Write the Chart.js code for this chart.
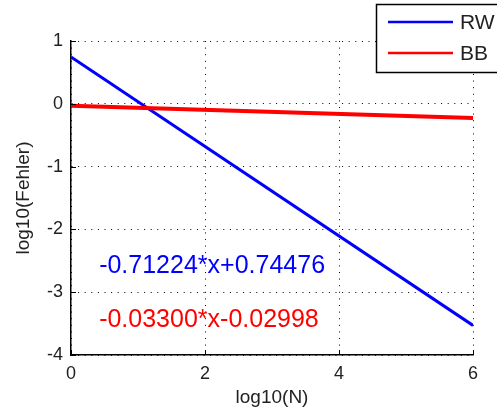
<!DOCTYPE html>
<html>
<head>
<meta charset="utf-8">
<title>log10(Fehler) vs log10(N)</title>
<script src="https://cdn.jsdelivr.net/npm/chart.js@4/dist/chart.umd.min.js"></script>
<style>
  html, body { margin: 0; padding: 0; background: #fff; }
  #plot { display: block; }
</style>
</head>
<body>
<canvas id="plot" width="497" height="417"></canvas>
<script>
// fitted lines, evaluated at the ends of the x range
const xEnds = [0, 6];
const rwValues = [0.74476, -3.52868];   // -0.71224*x+0.74476
const bbValues = [-0.02998, -0.22798];  // -0.03300*x-0.02998
const seriesNames = ['RW', 'BB'];
const fitLabels = ['-0.71224*x+0.74476', '-0.03300*x-0.02998'];
const fitLabelPos = [[0.42, -2.58], [0.42, -3.44]];
const xTicks = [0, 2, 4, 6];
const yTicks = [-4, -3, -2, -1, 0, 1];

const colors = ['#0000ff', '#ff0000'];
const FONT = '"Liberation Sans", Arial, sans-serif';

function points(ys) {
  return xEnds.map((x, i) => ({ x: x, y: ys[i] }));
}

// small inward tick marks on the left and bottom axes
const innerTicks = {
  id: 'innerTicks',
  afterDatasetsDraw(chart) {
    const { ctx, chartArea: a, scales } = chart;
    ctx.save();
    ctx.strokeStyle = '#000';
    ctx.lineWidth = 1;
    ctx.beginPath();
    xTicks.forEach(v => {
      const px = Math.round(scales.x.getPixelForValue(v)) + 0.5;
      ctx.moveTo(px, a.bottom);
      ctx.lineTo(px, a.bottom - 5);
    });
    yTicks.forEach(v => {
      const py = Math.round(scales.y.getPixelForValue(v)) + 0.5;
      ctx.moveTo(a.left, py);
      ctx.lineTo(a.left + 5, py);
    });
    ctx.stroke();
    ctx.restore();
  }
};

// equation text in each series colour
const fitText = {
  id: 'fitText',
  afterDatasetsDraw(chart) {
    const { ctx, scales } = chart;
    ctx.save();
    ctx.font = '25px ' + FONT;
    ctx.textBaseline = 'middle';
    ctx.textAlign = 'left';
    fitLabels.forEach((t, i) => {
      ctx.fillStyle = colors[i];
      ctx.fillText(t, scales.x.getPixelForValue(fitLabelPos[i][0]),
                      scales.y.getPixelForValue(fitLabelPos[i][1]));
    });
    ctx.restore();
  }
};

// boxed legend in the top right corner
const boxLegend = {
  id: 'boxLegend',
  afterDraw(chart) {
    const { ctx } = chart;
    ctx.save();
    ctx.fillStyle = '#fff';
    ctx.fillRect(376, 4, 130, 68);
    ctx.strokeStyle = '#000';
    ctx.lineWidth = 1.5;
    ctx.strokeRect(376.5, 4.5, 130, 68);
    ctx.font = '21px ' + FONT;
    ctx.textBaseline = 'middle';
    chart.data.datasets.forEach((ds, i) => {
      const y = 22 + i * 31;
      ctx.strokeStyle = ds.borderColor;
      ctx.lineWidth = 2.5;
      ctx.beginPath();
      ctx.moveTo(388, y);
      ctx.lineTo(453, y);
      ctx.stroke();
      ctx.fillStyle = '#222';
      ctx.fillText(ds.label, 460, y + 1);
    });
    ctx.restore();
  }
};

new Chart(document.getElementById('plot'), {
  type: 'line',
  data: {
    datasets: [
      {
        label: seriesNames[0],
        data: points(rwValues),
        borderColor: colors[0],
        borderWidth: 3,
        pointRadius: 0,
        order: 1
      },
      {
        label: seriesNames[1],
        data: points(bbValues),
        borderColor: colors[1],
        borderWidth: 4,
        pointRadius: 0,
        order: 0
      }
    ]
  },
  options: {
    responsive: false,
    animation: false,
    layout: { padding: { top: 41, right: 24, left: 0, bottom: 0 } },
    plugins: {
      legend: { display: false },
      tooltip: { enabled: false }
    },
    scales: {
      x: {
        type: 'linear',
        min: 0,
        max: 6,
        afterBuildTicks: s => { s.ticks = xTicks.map(v => ({ value: v })); },
        afterFit: s => { s.height = 62; },
        grid: {
          color: '#000',
          lineWidth: 1,
          drawTicks: false
        },
        // dash applies to the grid lines; the axis line itself stays solid
        border: { display: true, color: '#000', width: 1.5, dash: [1, 5.6] },
        ticks: {
          color: '#222',
          padding: 8,
          font: { family: FONT, size: 18 }
        },
        title: {
          display: true,
          text: 'log10(N)',
          color: '#222',
          padding: { top: 0, bottom: 8 },
          font: { family: FONT, size: 19 }
        }
      },
      y: {
        type: 'linear',
        min: -4,
        max: 1,
        afterBuildTicks: s => { s.ticks = yTicks.map(v => ({ value: v })); },
        afterFit: s => { s.width = 71; },
        grid: {
          color: '#000',
          lineWidth: 1,
          drawTicks: false
        },
        border: { display: true, color: '#000', width: 1.5, dash: [1, 5.6] },
        ticks: {
          color: '#222',
          padding: 8,
          font: { family: FONT, size: 18 }
        },
        title: {
          display: true,
          text: 'log10(Fehler)',
          color: '#222',
          padding: { top: 12, bottom: 0 },
          font: { family: FONT, size: 19 }
        }
      }
    }
  },
  plugins: [innerTicks, fitText, boxLegend]
});
</script>
</body>
</html>
